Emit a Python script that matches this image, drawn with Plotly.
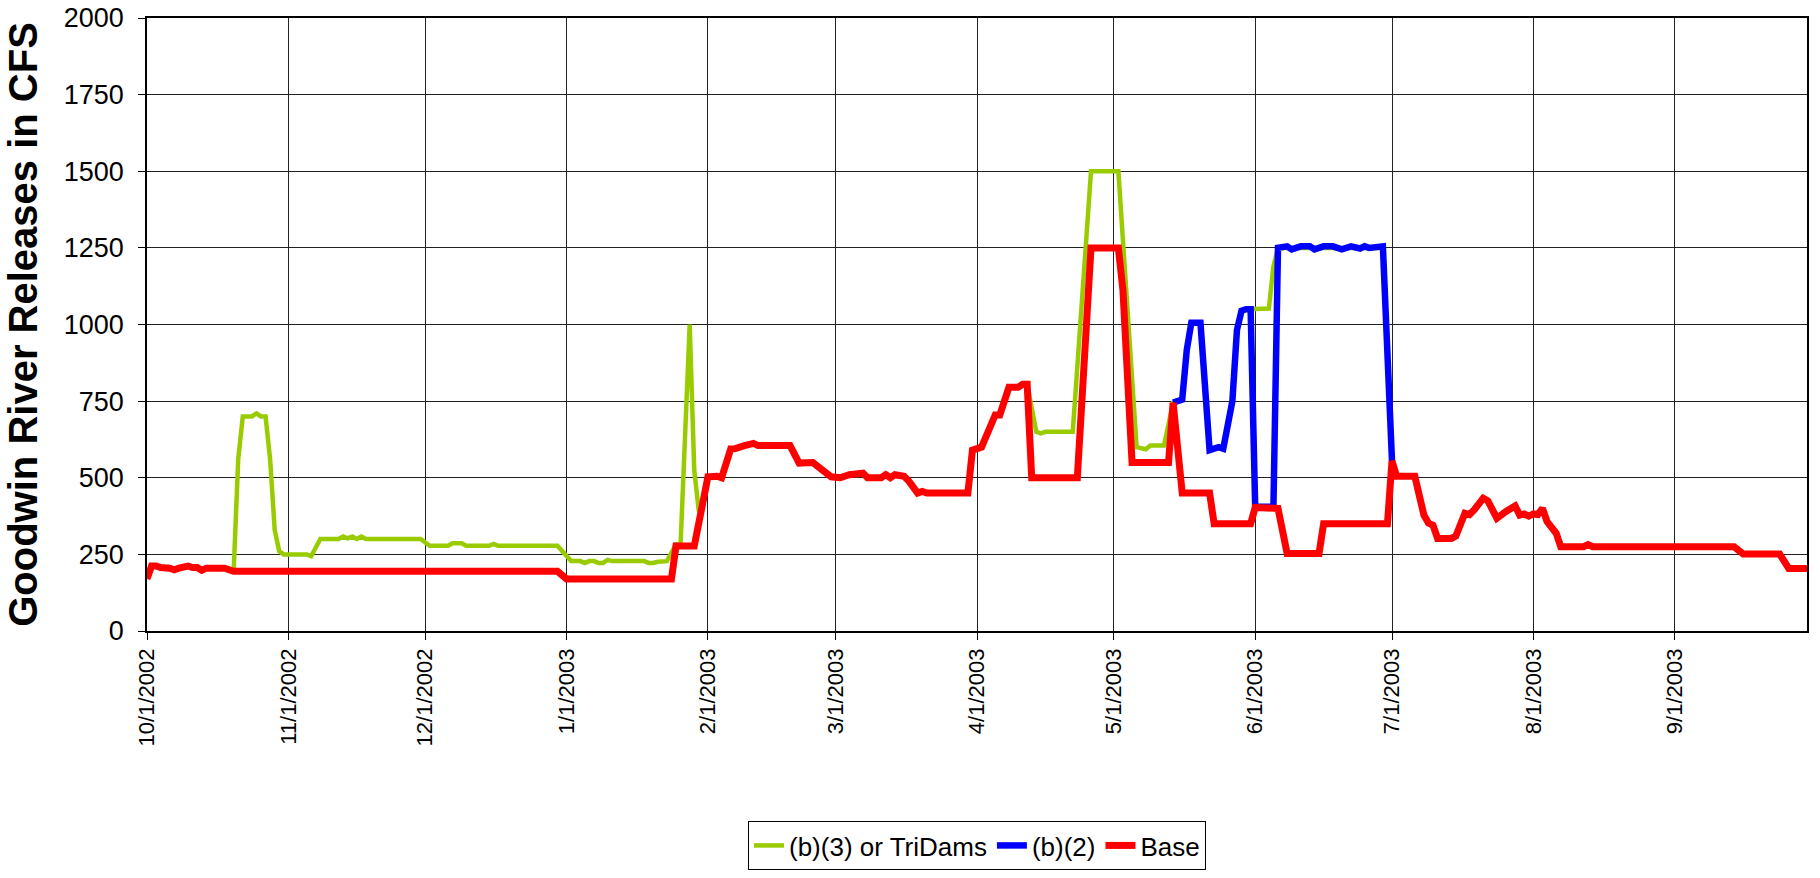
import plotly.graph_objects as go

# ---------------- data ----------------
base_dates = [
    "2002-10-01", "2002-10-02", "2002-10-03", "2002-10-04", "2002-10-06", "2002-10-07",
    "2002-10-08", "2002-10-09", "2002-10-10", "2002-10-11", "2002-10-12", "2002-10-13",
    "2002-10-14", "2002-10-18", "2002-10-19", "2002-10-20", "2002-12-30", "2003-01-01",
    "2003-01-24", "2003-01-25", "2003-01-29", "2003-02-01", "2003-02-03", "2003-02-04",
    "2003-02-06", "2003-02-07", "2003-02-09", "2003-02-11", "2003-02-12", "2003-02-19",
    "2003-02-21", "2003-02-24", "2003-02-28", "2003-03-02", "2003-03-04", "2003-03-06",
    "2003-03-07", "2003-03-08", "2003-03-11", "2003-03-12", "2003-03-13", "2003-03-14",
    "2003-03-16", "2003-03-17", "2003-03-19", "2003-03-20", "2003-03-21", "2003-03-30",
    "2003-03-31", "2003-04-02", "2003-04-05", "2003-04-06", "2003-04-08", "2003-04-10",
    "2003-04-11", "2003-04-12", "2003-04-13", "2003-04-23", "2003-04-26", "2003-05-02",
    "2003-05-03", "2003-05-05", "2003-05-13", "2003-05-14", "2003-05-16", "2003-05-22",
    "2003-05-23", "2003-05-31", "2003-06-01", "2003-06-06", "2003-06-08", "2003-06-15",
    "2003-06-16", "2003-06-30", "2003-07-01", "2003-07-02", "2003-07-06", "2003-07-08",
    "2003-07-09", "2003-07-10", "2003-07-11", "2003-07-14", "2003-07-15", "2003-07-17",
    "2003-07-18", "2003-07-19", "2003-07-21", "2003-07-22", "2003-07-23", "2003-07-24",
    "2003-07-26", "2003-07-28", "2003-07-29", "2003-07-30", "2003-07-31", "2003-08-01",
    "2003-08-02", "2003-08-03", "2003-08-04", "2003-08-05", "2003-08-06", "2003-08-07",
    "2003-08-12", "2003-08-13", "2003-08-14", "2003-09-14", "2003-09-16", "2003-09-24",
    "2003-09-26", "2003-09-30",
]
base_cfs = [
    170, 212, 212, 207, 205, 200,
    205, 206, 212, 207, 207, 198,
    205, 205, 200, 195, 195, 170,
    170, 277, 277, 503, 505, 500,
    594, 595, 605, 612, 605, 605,
    548, 550, 503, 500, 510, 510,
    515, 500, 500, 510, 500, 510,
    505, 490, 450, 455, 450, 450,
    590, 600, 705, 705, 795, 795,
    805, 805, 500, 500, 1250, 1250,
    1112, 550, 550, 745, 450, 450,
    350, 350, 403, 400, 253, 253,
    350, 350, 555, 505, 505, 378,
    352, 345, 302, 302, 310, 384,
    380, 395, 433, 425, 395, 368,
    390, 408, 378, 382, 375, 382,
    380, 400, 357, 335, 319, 275,
    275, 282, 275, 275, 251, 251,
    204, 204,
]

# (b)(3) or TriDams - part 1 (Oct - Jan)
tridams_dates_1 = [
    "2002-10-19", "2002-10-20", "2002-10-21", "2002-10-22", "2002-10-24", "2002-10-25",
    "2002-10-26", "2002-10-27", "2002-10-28", "2002-10-29", "2002-10-30", "2002-10-31",
    "2002-11-05", "2002-11-06", "2002-11-08", "2002-11-12", "2002-11-13", "2002-11-14",
    "2002-11-15", "2002-11-16", "2002-11-17", "2002-11-18", "2002-11-30", "2002-12-02",
    "2002-12-06", "2002-12-07", "2002-12-09", "2002-12-10", "2002-12-15", "2002-12-16",
    "2002-12-17", "2002-12-30", "2003-01-02", "2003-01-04", "2003-01-05", "2003-01-06",
    "2003-01-07", "2003-01-08", "2003-01-09", "2003-01-10", "2003-01-11", "2003-01-18",
    "2003-01-19", "2003-01-20", "2003-01-21", "2003-01-23", "2003-01-25", "2003-01-26",
    "2003-01-28", "2003-01-29", "2003-01-30", "2003-01-31",
]
tridams_cfs_1 = [
    200, 195, 560, 700, 700, 710,
    700, 700, 560, 330, 260, 250,
    250, 244, 300, 300, 308, 302,
    308, 300, 308, 300, 300, 278,
    278, 286, 286, 278, 278, 284,
    278, 278, 228, 228, 222, 228,
    228, 222, 222, 232, 228, 228,
    222, 222, 226, 228, 283, 283,
    1000, 525, 390, 428,
]
# (b)(3) or TriDams - part 2 (Apr - Jul)
tridams_dates_2 = [
    "2003-04-12", "2003-04-14", "2003-04-15", "2003-04-16", "2003-04-22", "2003-04-26",
    "2003-05-02", "2003-05-06", "2003-05-08", "2003-05-09", "2003-05-12", "2003-05-14",
    "2003-05-16", "2003-05-17", "2003-05-18", "2003-05-20", "2003-05-22", "2003-05-23",
    "2003-05-24", "2003-05-25", "2003-05-27", "2003-05-28", "2003-05-29", "2003-05-30",
    "2003-06-04", "2003-06-05", "2003-06-06", "2003-06-29", "2003-07-01",
]
tridams_cfs_2 = [
    805, 650, 645, 650, 650, 1500,
    1500, 600, 593, 605, 605, 745,
    755, 917, 1006, 1006, 590, 595,
    600, 595, 750, 982, 1045, 1050,
    1052, 1190, 1250, 1250, 555,
]

# (b)(2)
b2_dates = [
    "2003-05-14", "2003-05-16", "2003-05-17", "2003-05-18", "2003-05-20", "2003-05-22",
    "2003-05-23", "2003-05-24", "2003-05-25", "2003-05-27", "2003-05-28", "2003-05-29",
    "2003-05-30", "2003-05-31", "2003-06-01", "2003-06-05", "2003-06-06", "2003-06-08",
    "2003-06-09", "2003-06-11", "2003-06-13", "2003-06-14", "2003-06-16", "2003-06-18",
    "2003-06-20", "2003-06-22", "2003-06-24", "2003-06-25", "2003-06-26", "2003-06-28",
    "2003-06-29", "2003-07-01",
]
b2_cfs = [
    745, 755, 917, 1006, 1006, 590,
    595, 600, 595, 750, 982, 1045,
    1050, 1050, 405, 405, 1250, 1255,
    1245, 1255, 1255, 1245, 1255, 1255,
    1245, 1255, 1248, 1255, 1250, 1250,
    1255, 555,
]

month_ticks = [
    "2002-10-01", "2002-11-01", "2002-12-01", "2003-01-01", "2003-02-01", "2003-03-01",
    "2003-04-01", "2003-05-01", "2003-06-01", "2003-07-01", "2003-08-01", "2003-09-01",
]
month_labels = [
    "10/1/2002", "11/1/2002", "12/1/2002", "1/1/2003", "2/1/2003", "3/1/2003",
    "4/1/2003", "5/1/2003", "6/1/2003", "7/1/2003", "8/1/2003", "9/1/2003",
]
y_ticks = [0, 250, 500, 750, 1000, 1250, 1500, 1750, 2000]

# ---------------- figure ----------------
FONT = "Arial, Liberation Sans, sans-serif"

tridams_x = tridams_dates_1 + [None] + tridams_dates_2
tridams_y = tridams_cfs_1 + [None] + tridams_cfs_2

fig = go.Figure()
fig.add_trace(go.Scatter(
    x=tridams_x, y=tridams_y, mode="lines", name="(b)(3) or TriDams",
    line=dict(color="#99CC00", width=4.5), connectgaps=False,
))
fig.add_trace(go.Scatter(
    x=b2_dates, y=b2_cfs, mode="lines", name="(b)(2)",
    line=dict(color="#0000FF", width=6.5),
))
fig.add_trace(go.Scatter(
    x=base_dates, y=base_cfs, mode="lines", name="Base",
    line=dict(color="#FF0000", width=7),
))

fig.update_layout(
    width=1820, height=878,
    margin=dict(l=147, r=13, t=18, b=247, autoexpand=False),
    paper_bgcolor="white", plot_bgcolor="white",
    font=dict(family=FONT, color="black"),
    showlegend=True,
    legend=dict(
        orientation="h", x=0.5, xanchor="center", y=-0.31, yanchor="top",
        font=dict(family=FONT, size=26, color="black"),
        bordercolor="black", borderwidth=1, bgcolor="white",
        traceorder="normal",
    ),
)

fig.update_xaxes(
    type="date", range=["2002-10-01", "2003-09-30"], automargin=False,
    tickmode="array", tickvals=month_ticks, ticktext=month_labels,
    tickangle=-90, tickfont=dict(family=FONT, size=22, color="black"),
    showgrid=True, gridcolor="#222222", gridwidth=1,
    ticks="outside", ticklen=7, tickcolor="black",
    showline=True, linecolor="black", linewidth=1.5, mirror=True,
    zeroline=False,
)
fig.update_yaxes(
    range=[0, 2000], tickmode="array", tickvals=y_ticks, automargin=False,
    tickfont=dict(family=FONT, size=27, color="black"),
    showgrid=True, gridcolor="#222222", gridwidth=1,
    ticks="outside", ticklen=7, tickcolor="black",
    showline=True, linecolor="black", linewidth=1.5, mirror=True,
    zeroline=False, ticklabelstandoff=9,
    title=dict(text="<b>Goodwin River Releases in CFS</b>",
               font=dict(family=FONT, size=40, color="black"), standoff=14),
)

fig.write_html(
    "out.html",
    config={"displayModeBar": False},
    post_script="document.body.style.margin='0';document.body.style.overflow='hidden';",
)
